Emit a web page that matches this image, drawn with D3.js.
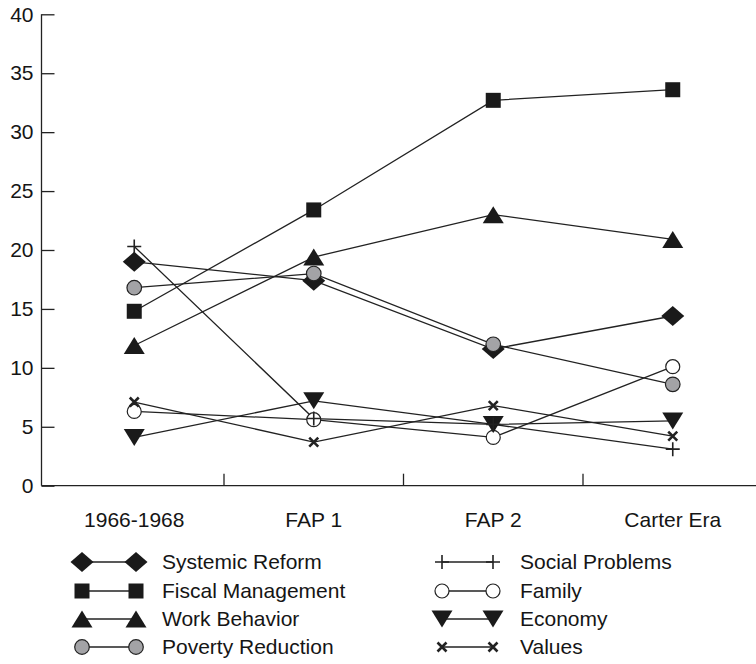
<!DOCTYPE html>
<html>
<head>
<meta charset="utf-8">
<script src="https://cdn.jsdelivr.net/npm/d3@7"></script>
<style>
  body { margin: 0; background: #fff; }
  text { font-family: "Liberation Sans", Arial, sans-serif; fill: #151515; }
</style>
</head>
<body>
<div id="chart"></div>
<script>
const categories = ["1966-1968", "FAP 1", "FAP 2", "Carter Era"];
const yTicks = [0, 5, 10, 15, 20, 25, 30, 35, 40];

const systemicReform = [19.0, 17.4, 11.6, 14.4];
const fiscalManagement = [14.8, 23.4, 32.7, 33.6];
const workBehavior = [11.9, 19.4, 23.0, 20.9];
const povertyReduction = [16.8, 18.0, 12.0, 8.6];
const socialProblems = [20.3, 5.7, 5.2, 3.1];
const family = [6.3, 5.6, 4.1, 10.1];
const economy = [4.1, 7.2, 5.2, 5.5];
const values = [7.1, 3.7, 6.8, 4.2];

const series = [
  {name: "Systemic Reform", values: systemicReform, marker: "diamond"},
  {name: "Fiscal Management", values: fiscalManagement, marker: "square"},
  {name: "Work Behavior", values: workBehavior, marker: "triangleUp"},
  {name: "Poverty Reduction", values: povertyReduction, marker: "grayCircle"},
  {name: "Social Problems", values: socialProblems, marker: "plus"},
  {name: "Family", values: family, marker: "openCircle"},
  {name: "Economy", values: economy, marker: "triangleDown"},
  {name: "Values", values: values, marker: "cross"}
];

const width = 756, height = 664;
const axisLeftX = 41.5;

const svg = d3.select("#chart").append("svg")
  .attr("width", width).attr("height", height);

const x = d3.scaleBand()
  .domain(categories)
  .range([44.5, 762.5])
  .padding(0);

const y = d3.scaleLinear()
  .domain([0, 40])
  .range([485.7, 14.3]);

// y axis, ticks pointing inward
const yAxis = svg.append("g")
  .attr("transform", `translate(${axisLeftX},0)`)
  .call(d3.axisRight(y).tickValues(yTicks).tickSize(13).tickSizeOuter(0).tickFormat(d3.format("d")));
yAxis.select(".domain").remove();
yAxis.selectAll(".tick line").attr("stroke", "#222").attr("stroke-width", 1.3);
yAxis.selectAll(".tick text")
  .attr("x", -8).attr("text-anchor", "end")
  .attr("font-size", 21).attr("font-family", null);
svg.append("line")
  .attr("x1", axisLeftX).attr("x2", axisLeftX)
  .attr("y1", y(40)).attr("y2", y(0))
  .attr("stroke", "#222").attr("stroke-width", 1.3);

// x axis: line, separator ticks between bands pointing up
svg.append("line")
  .attr("x1", axisLeftX).attr("x2", width)
  .attr("y1", y(0)).attr("y2", y(0))
  .attr("stroke", "#222").attr("stroke-width", 1.3);
svg.append("g").selectAll("line")
  .data(categories.slice(1))
  .join("line")
    .attr("x1", d => x(d)).attr("x2", d => x(d))
    .attr("y1", y(0)).attr("y2", y(0) - 12)
    .attr("stroke", "#222").attr("stroke-width", 1.3);
svg.append("g").selectAll("text")
  .data(categories)
  .join("text")
    .attr("x", d => x(d) + x.bandwidth() / 2)
    .attr("y", 527)
    .attr("text-anchor", "middle")
    .attr("font-size", 21)
    .text(d => d);

function drawMarker(g, type) {
  const sw = 1.2;
  switch (type) {
    case "diamond":
      g.append("path").attr("d", "M0,-10L11.5,0L0,10L-11.5,0Z").attr("fill", "#1a1a1a");
      break;
    case "square":
      g.append("rect").attr("x", -7.5).attr("y", -7.5).attr("width", 15).attr("height", 15).attr("fill", "#1a1a1a");
      break;
    case "triangleUp":
      g.append("path").attr("d", "M0,-8.5L10.5,8.5L-10.5,8.5Z").attr("fill", "#1a1a1a");
      break;
    case "triangleDown":
      g.append("path").attr("d", "M0,8.5L10.5,-8.5L-10.5,-8.5Z").attr("fill", "#1a1a1a");
      break;
    case "grayCircle":
      g.append("circle").attr("r", 7.3).attr("fill", "#a3a3a6").attr("stroke", "#222").attr("stroke-width", sw);
      break;
    case "openCircle":
      g.append("circle").attr("r", 7).attr("fill", "#fff").attr("stroke", "#222").attr("stroke-width", sw);
      break;
    case "plus":
      g.append("path").attr("d", "M-7,0H7M0,-7V7").attr("stroke", "#222").attr("stroke-width", 1.6);
      break;
    case "cross":
      g.append("path").attr("d", "M-4.5,-4.5L4.5,4.5M-4.5,4.5L4.5,-4.5").attr("stroke", "#222").attr("stroke-width", 2.6);
      break;
  }
}

const line = d3.line()
  .x((d, i) => x(categories[i]) + x.bandwidth() / 2)
  .y(d => y(d));

svg.append("g").selectAll("path")
  .data(series)
  .join("path")
    .attr("d", d => line(d.values))
    .attr("fill", "none")
    .attr("stroke", "#222")
    .attr("stroke-width", 1.3);

const drawOrder = ["diamond", "square", "triangleUp", "grayCircle", "openCircle", "triangleDown", "plus", "cross"];
drawOrder.forEach(m => {
  const s = series.find(d => d.marker === m);
  s.values.forEach((v, i) => {
    const g = svg.append("g")
      .attr("transform", `translate(${x(categories[i]) + x.bandwidth() / 2},${y(v)})`);
    drawMarker(g, m);
  });
});

// legend
const legendRows = [562, 591, 619, 647];
const legendCols = [{x1: 82, x2: 136, tx: 162}, {x1: 442, x2: 493, tx: 520}];
series.forEach((s, i) => {
  const col = legendCols[Math.floor(i / 4)];
  const ly = legendRows[i % 4];
  const g = svg.append("g");
  g.append("line")
    .attr("x1", col.x1).attr("x2", col.x2)
    .attr("y1", ly).attr("y2", ly)
    .attr("stroke", "#222").attr("stroke-width", 1.3);
  drawMarker(g.append("g").attr("transform", `translate(${col.x1},${ly})`), s.marker);
  drawMarker(g.append("g").attr("transform", `translate(${col.x2},${ly})`), s.marker);
  g.append("text")
    .attr("x", col.tx).attr("y", ly)
    .attr("dy", "0.35em")
    .attr("font-size", 21)
    .text(s.name);
});
</script>
</body>
</html>
